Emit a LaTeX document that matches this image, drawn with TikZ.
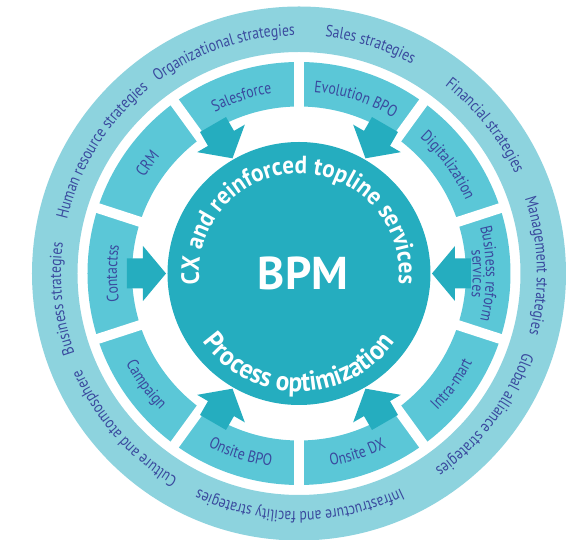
\documentclass[tikz,border=0pt]{standalone}
\usepackage{fontspec}
\setmainfont{PT Sans}
\newfontfamily\narrowsans[FakeStretch=0.83]{PT Sans}
\newfontfamily\coresans[FakeStretch=0.92]{PT Sans}
\usepackage{tikz}
\usetikzlibrary{decorations.text}

\definecolor{ringlight}{HTML}{8DD3DE}
\definecolor{segfill}{HTML}{5BC7D7}
\definecolor{corefill}{HTML}{25ADBF}
\definecolor{navy}{HTML}{3A4A9E}

\newcommand\ringfont{\narrowsans\fontsize{16.5}{18}\selectfont\color{navy}}
\newcommand\corefont{\coresans\fontsize{25}{27}\selectfont\bfseries\color{white}}
\newcommand\procfont{\coresans\fontsize{27.5}{29}\selectfont\bfseries\color{white}}

\begin{document}
\begin{tikzpicture}[
  ringlabel/.style={decorate, decoration={text along path, text align=center,
                    text={|\ringfont|#1}}},
  corelabel/.style={decorate, decoration={text along path, text align=center,
                    text={|\corefont|#1}}},
  proclabel/.style={decorate, decoration={text along path, text align=center,
                    text={|\procfont|#1}}},
  gap/.style={white, line width=10pt},
  blockarrow/.style={fill=corefill}
]
  \useasboundingbox (-299pt,-266.5pt) rectangle (283pt,273.5pt);
  \coordinate (c) at (0,0);

  % Rings
  \fill[ringlight, even odd rule] (c) circle (267pt) (c) circle (221.5pt);
  \fill[segfill, even odd rule] (c) circle (211.5pt) (c) circle (167pt);
  \foreach \a in {18,54,...,342}
    \draw[gap] (\a:160pt) -- (\a:216pt);
  \fill[corefill] (c) circle (131.5pt);

  % Arrows into the core
  \foreach \a in {0,60,...,300}
    \fill[blockarrow, rotate=\a] (172pt,15pt) -- (156pt,15pt) -- (156pt,27.5pt)
      -- (133pt,0pt) -- (156pt,-27.5pt) -- (156pt,-15pt) -- (172pt,-15pt) -- cycle;

  % Core
  \node[font=\fontsize{46}{48}\selectfont\bfseries, text=white] (bpm) at (4pt,0pt) {BPM};
  \path[corelabel={CX and reinforced topline services}]
    (200:100pt) arc[start angle=200, end angle=-20, radius=100pt];
  \path[proclabel={Process optimization}]
    (200:118pt) arc[start angle=200, end angle=340, radius=118pt];

  % Segment labels
  \path[ringlabel={Salesforce}] (138:182pt) arc[start angle=138, end angle=78, radius=182pt];
  \path[ringlabel={Evolution BPO}] (102:182pt) arc[start angle=102, end angle=42, radius=182pt];
  \path[ringlabel={Digitalization}] (66:182pt) arc[start angle=66, end angle=6, radius=182pt];
  \path[ringlabel={Business reform}] (30:187pt) arc[start angle=30, end angle=-30, radius=187pt];
  \path[ringlabel={services}] (30:174pt) arc[start angle=30, end angle=-30, radius=174pt];
  \path[ringlabel={Intra-mart}] (-66:195pt) arc[start angle=-66, end angle=-6, radius=195pt];
  \path[ringlabel={Onsite DX}] (-102:195pt) arc[start angle=-102, end angle=-42, radius=195pt];
  \path[ringlabel={Onsite BPO}] (-138:195pt) arc[start angle=-138, end angle=-78, radius=195pt];
  \path[ringlabel={Campaign}] (-174:195pt) arc[start angle=-174, end angle=-114, radius=195pt];
  \path[ringlabel={Contactss}] (210:182pt) arc[start angle=210, end angle=150, radius=182pt];
  \path[ringlabel={CRM}] (174:182pt) arc[start angle=174, end angle=114, radius=182pt];

  % Strategy labels
  \path[ringlabel={Organizational strategies}] (153.7:238pt) arc[start angle=153.7, end angle=63.7, radius=238pt];
  \path[ringlabel={Sales strategies}] (117.7:238pt) arc[start angle=117.7, end angle=27.7, radius=238pt];
  \path[ringlabel={Financial strategies}] (83.5:238pt) arc[start angle=83.5, end angle=-6.5, radius=238pt];
  \path[ringlabel={Management strategies}] (46.9:238pt) arc[start angle=46.9, end angle=-43.1, radius=238pt];
  \path[ringlabel={Global alliance strategies}] (7.7:238pt) arc[start angle=7.7, end angle=-82.3, radius=238pt];
  \path[ringlabel={Infrastructure and facility strategies}] (-44.8:238pt) arc[start angle=-44.8, end angle=-134.8, radius=238pt];
  \path[ringlabel={Culture and atomosphere}] (266.6:238pt) arc[start angle=266.6, end angle=176.6, radius=238pt];
  \path[ringlabel={Business strategies}] (231.1:238pt) arc[start angle=231.1, end angle=141.1, radius=238pt];
  \path[ringlabel={Human resource strategies}] (193:238pt) arc[start angle=193, end angle=103, radius=238pt];
\end{tikzpicture}
\end{document}
